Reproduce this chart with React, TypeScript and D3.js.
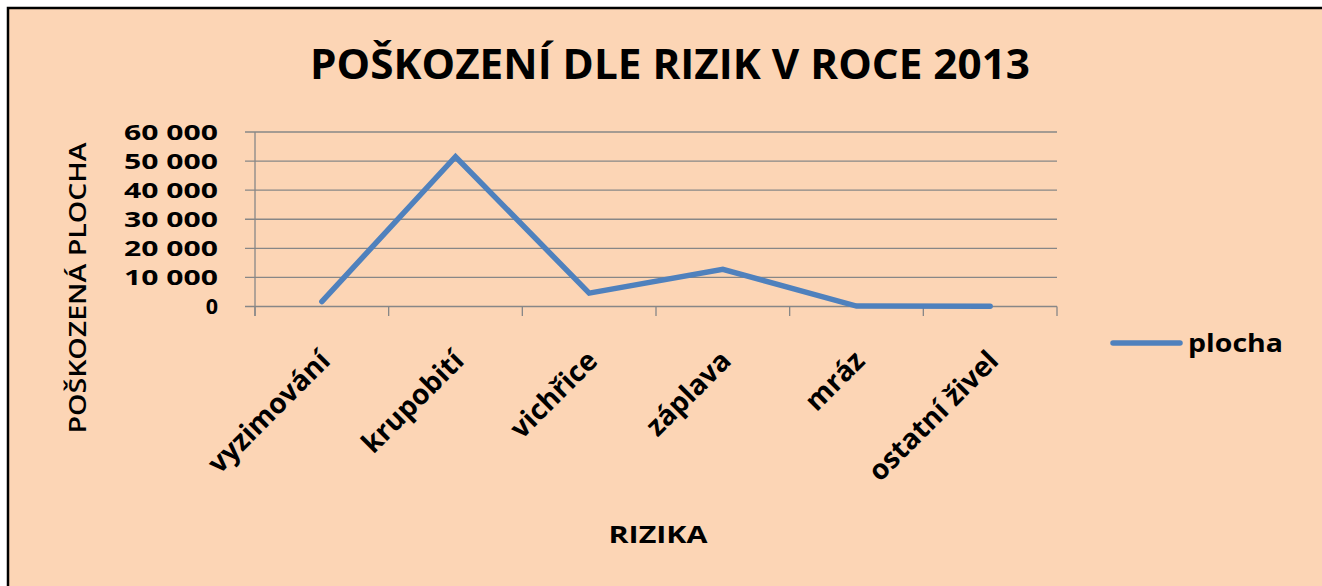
import React from "react";
import * as d3 from "d3";

const categories: string[] = ["vyzimování", "krupobití", "vichřice", "záplava", "mráz", "ostatní živel"];
const plocha: number[] = [1700, 51500, 4600, 12800, 150, 100];
const yTicks: number[] = [0, 10000, 20000, 30000, 40000, 50000, 60000];
const seriesName = "plocha";
const titleText = "POŠKOZENÍ DLE RIZIK V ROCE 2013";
const yTitle = "POŠKOZENÁ PLOCHA";
const xTitle = "RIZIKA";

const W = 1322;
const H = 586;
const FONT = "'Open Sans', 'DejaVu Sans', sans-serif";

export default function App() {
  const left = 255, right = 1057, top = 132, bottom = 306.5;
  const x = d3.scaleBand<string>().domain(categories).range([left, right]).padding(0);
  const y = d3.scaleLinear().domain([0, 60000]).range([bottom, top]);
  const fmt = (v: number) => d3.format(",")(v).replace(/,/g, " ");
  const line = d3.line<number>()
    .x((_, i) => (x(categories[i]) as number) + x.bandwidth() / 2)
    .y((d) => y(d));
  const edges = categories.map((c) => x(c) as number).concat([right]);

  return (
    <svg width={W} height={H} style={{ position: "absolute", left: 0, top: 0, display: "block" }}>
      <rect x={0} y={0} width={W} height={H} fill="#ffffff" />
      <rect x={8} y={8} width={W + 20} height={H + 20} fill="#FCD5B5" stroke="#000" strokeWidth={2.5} />
      <text x={670} y={79} textAnchor="middle" fontFamily={FONT} fontWeight="bold" fontSize={42}
        textLength={720} lengthAdjust="spacingAndGlyphs" fill="#000">{titleText}</text>

      {yTicks.map((t) => (
        <g key={t}>
          <line x1={245} x2={right} y1={y(t)} y2={y(t)} stroke="#878787" strokeWidth={1.3} />
          <text x={218} y={y(t)} dy="0.37em" textAnchor="end" fontFamily={FONT} fontWeight="bold"
            fontSize={21.5} fill="#000"
            {...(t === 0 ? {} : { textLength: 94, lengthAdjust: "spacingAndGlyphs" })}>{fmt(t)}</text>
        </g>
      ))}
      <line x1={left} x2={left} y1={top} y2={316} stroke="#878787" strokeWidth={1.3} />
      {edges.map((e, i) => (
        <line key={i} x1={e} x2={e} y1={bottom} y2={316} stroke="#878787" strokeWidth={1.3} />
      ))}

      <path d={line(plocha) || ""} fill="none" stroke="#4F81BD" strokeWidth={5.5}
        strokeLinecap="round" strokeLinejoin="miter" />

      {categories.map((c) => {
        const cx = (x(c) as number) + x.bandwidth() / 2;
        return (
          <text key={c} transform={`translate(${cx + 10},${bottom + 56}) rotate(-45)`} textAnchor="end"
            fontFamily={FONT} fontWeight="bold" fontSize={28} fill="#000">{c}</text>
        );
      })}

      <text transform={`translate(86,288) rotate(-90)`} textAnchor="middle" fontFamily={FONT}
        fontWeight="600" fontSize={23} textLength={291} lengthAdjust="spacingAndGlyphs" fill="#000">{yTitle}</text>
      <text x={658} y={543} textAnchor="middle" fontFamily={FONT} fontWeight="bold" fontSize={24}
        textLength={99} lengthAdjust="spacingAndGlyphs" fill="#000">{xTitle}</text>

      <line x1={1113} x2={1180} y1={343} y2={343} stroke="#4F81BD" strokeWidth={5.5} strokeLinecap="round" />
      <text x={1188} y={352} fontFamily={FONT} fontWeight="bold" fontSize={25}
        textLength={95} lengthAdjust="spacingAndGlyphs" fill="#000">{seriesName}</text>
    </svg>
  );
}
